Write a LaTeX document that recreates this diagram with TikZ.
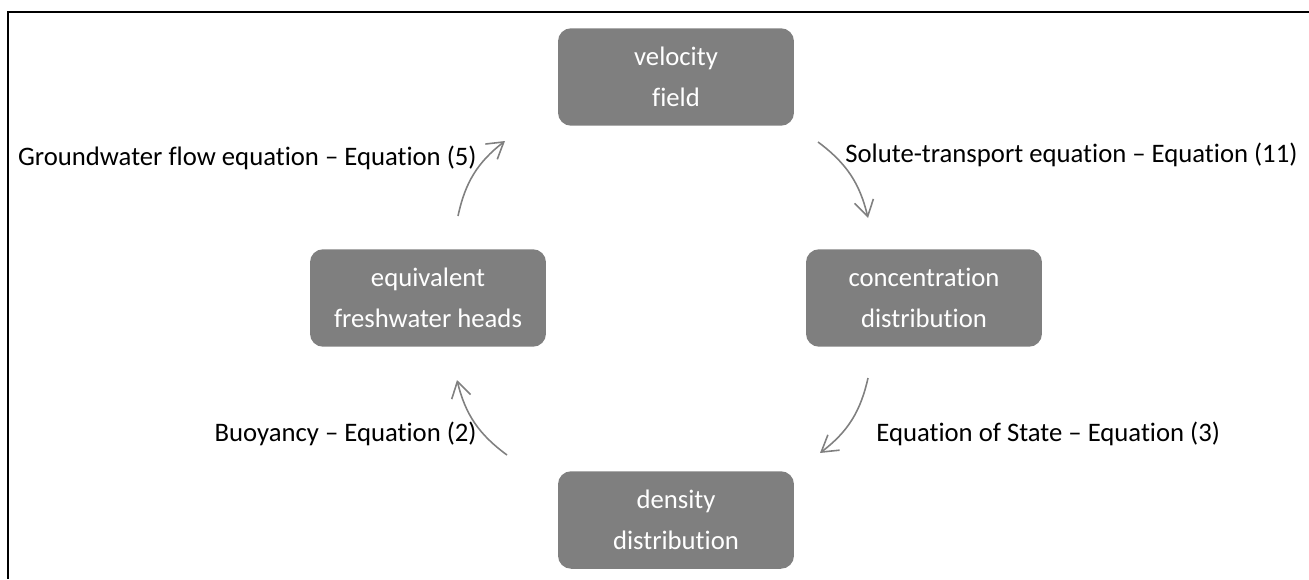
\documentclass[tikz,border=0pt]{standalone}
\usepackage{fontspec}
\setmainfont{Carlito}[Ligatures={TeX,NoCommon,NoContextual},Contextuals=NoAlternate]
\usepackage{tikz}
\usetikzlibrary{arrows.meta}
\usetikzlibrary{positioning}
\definecolor{boxgray}{HTML}{7F7F7F}
\definecolor{arrowgray}{HTML}{808080}
\tikzstyle{stage}=[rectangle,rounded corners=0.26cm,fill=boxgray,text=white,minimum width=4.72cm,minimum height=1.95cm,align=center,font=\fontsize{15.2}{23}\selectfont]
\tikzstyle{cycleedge} = [draw,arrowgray,line width=0.9pt,-{Straight Barb[length=9pt,width=11pt]},bend left=20]
\tikzstyle{eqlabel} = [font=\fontsize{15.2}{18}\selectfont,inner sep=0pt]
\tikzstyle{frame} = [draw,black,line width=1.2pt]

\begin{document}
\begin{tikzpicture}[x=0.02cm, y=-0.02cm]

    \useasboundingbox (0,0) rectangle (1309,579);
    \draw[frame] (1309,12) -- (8,12) -- (8,579);

    \foreach \pos/\name/\txt in {{(676,77)/vel/velocity\\field}, {(428,298)/head/equivalent\\freshwater heads}, {(924,298)/conc/concentration\\distribution}, {(676,520)/dens/density\\distribution}}
        \node[stage] (\name) at \pos {\txt};

    % arrow ends
    \foreach \x/\y/\name in {458/216/gA, 505/141/gB, 818/142/sA, 868/218/sB, 868/378/eA, 820/453/eB, 507/455/bA, 457/380/bB}
        \coordinate (\name) at (\x,\y);

    \foreach \source/\dest in {gA/gB, sA/sB, eA/eB, bA/bB}
        \path[cycleedge] (\source) to (\dest);

    \node[eqlabel, anchor=east] (gwlabel) at (477,158) {Groundwater flow equation -- Equation (5)};
    \node[eqlabel, anchor=west] (stlabel) at (845,155) {Solute-transport equation -- Equation (11)};
    \node[eqlabel, anchor=east] (bylabel) at (477,434) {Buoyancy -- Equation (2)};
    \node[eqlabel, anchor=west] (eslabel) at (876,434) {Equation of State -- Equation (3)};

\end{tikzpicture}
\end{document}
